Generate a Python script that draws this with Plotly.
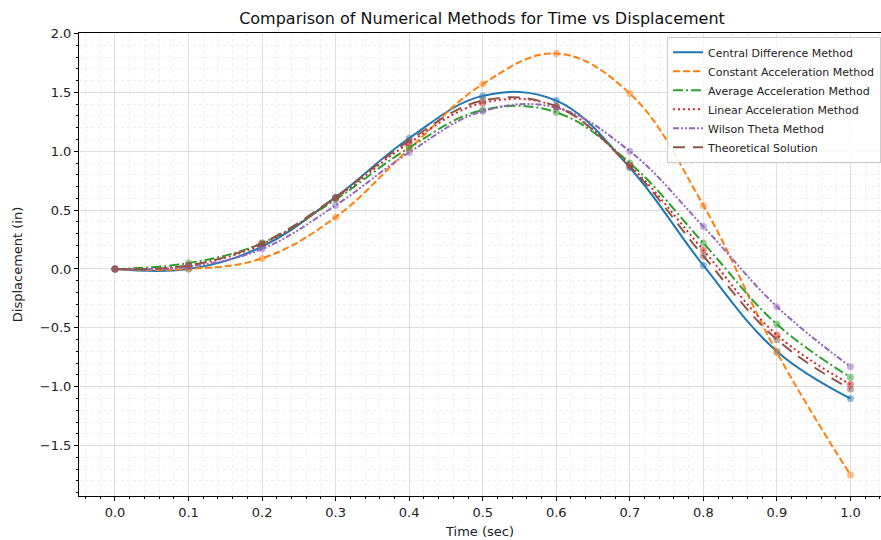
import plotly.graph_objects as go

# ---- data ----
time_sec = [0.0, 0.1, 0.2, 0.3, 0.4, 0.5, 0.6, 0.7, 0.8, 0.9, 1.0]
central_difference = [0.0, 0.00, 0.19, 0.61, 1.11, 1.47, 1.43, 0.86, 0.03, -0.70, -1.10]
constant_acceleration = [0.0, 0.00, 0.09, 0.44, 1.02, 1.57, 1.83, 1.49, 0.54, -0.71, -1.75]
average_acceleration = [0.0, 0.05, 0.22, 0.59, 1.03, 1.35, 1.33, 0.90, 0.22, -0.47, -0.92]
linear_acceleration = [0.0, 0.03, 0.21, 0.60, 1.07, 1.41, 1.38, 0.88, 0.16, -0.56, -0.98]
wilson_theta = [0.0, 0.02, 0.17, 0.54, 0.99, 1.34, 1.37, 1.00, 0.36, -0.32, -0.83]
theoretical = [0.0, 0.03, 0.22, 0.61, 1.09, 1.43, 1.38, 0.87, 0.11, -0.60, -1.02]

series_names = ["Central Difference Method", "Constant Acceleration Method",
                "Average Acceleration Method", "Linear Acceleration Method",
                "Wilson Theta Method", "Theoretical Solution"]
series_values = [central_difference, constant_acceleration, average_acceleration,
                 linear_acceleration, wilson_theta, theoretical]
colors = ["#1f77b4", "#ff7f0e", "#2ca02c", "#d62728", "#9467bd", "#8c564b"]
dashes = ["solid", "7px,3px", "10px,3px,2px,3px", "2px,3px",
          "6px,2px,2px,2px,2px,2px", "12px,8px"]

fig = go.Figure()
for name, vals, c, d in zip(series_names, series_values, colors, dashes):
    fig.add_trace(go.Scatter(x=time_sec, y=vals, mode="lines", name=name,
                             line=dict(color=c, width=2, dash=d, shape="spline", smoothing=1.1)))
for name, vals, c in zip(series_names, series_values, colors):
    fig.add_trace(go.Scatter(x=time_sec, y=vals, mode="markers", showlegend=False,
                             marker=dict(color=c, size=7, opacity=0.5, line=dict(width=0)),
                             hoverinfo="skip"))

font_family = "DejaVu Sans"
fig.update_layout(
    width=881, height=540,
    margin=dict(l=79, r=0, t=33, b=44),
    paper_bgcolor="white", plot_bgcolor="white",
    font=dict(family=font_family, size=13, color="#222"),
    title=dict(text="Comparison of Numerical Methods for Time vs Displacement",
               font=dict(size=16, color="#111"), x=482/881, xanchor="center",
               xref="container", y=1-18/540, yref="container", yanchor="middle"),
    legend=dict(x=1.0, xanchor="right", y=0.992, yanchor="top",
                bgcolor="rgba(255,255,255,0.85)", bordercolor="#cccccc", borderwidth=1,
                font=dict(size=11, color="#222"), itemwidth=30, tracegroupgap=0),
    showlegend=True,
)
fig.update_xaxes(
    range=[-0.0489, 1.0415], tickvals=[0.0, 0.1, 0.2, 0.3, 0.4, 0.5, 0.6, 0.7, 0.8, 0.9, 1.0],
    ticktext=["0.0", "0.1", "0.2", "0.3", "0.4", "0.5", "0.6", "0.7", "0.8", "0.9", "1.0"],
    ticks="outside", ticklen=4, tickcolor="black", tickwidth=1,
    showline=True, linecolor="black", linewidth=1, mirror=True,
    showgrid=True, gridcolor="#dedede", gridwidth=1, zeroline=False,
    minor=dict(dtick=0.02, tick0=0, ticks="outside", ticklen=2, tickcolor="black",
               showgrid=True, gridcolor="#efefef", griddash="dot"),
    title=dict(text="Time (sec)", font=dict(size=13), standoff=8),
)
fig.update_yaxes(
    range=[-1.928, 2.004], tickvals=[-1.5, -1.0, -0.5, 0.0, 0.5, 1.0, 1.5, 2.0],
    ticktext=["\u22121.5", "\u22121.0", "\u22120.5", "0.0", "0.5", "1.0", "1.5", "2.0"],
    ticks="outside", ticklen=4, tickcolor="black", tickwidth=1,
    showline=True, linecolor="black", linewidth=1, mirror=False,
    showgrid=True, gridcolor="#dedede", gridwidth=1, zeroline=False,
    minor=dict(dtick=0.1, tick0=0, ticks="outside", ticklen=2, tickcolor="black",
               showgrid=True, gridcolor="#efefef", griddash="dot"),
    title=dict(text="Displacement (in)", font=dict(size=13), standoff=14),
)
fig.write_html("out.html")
